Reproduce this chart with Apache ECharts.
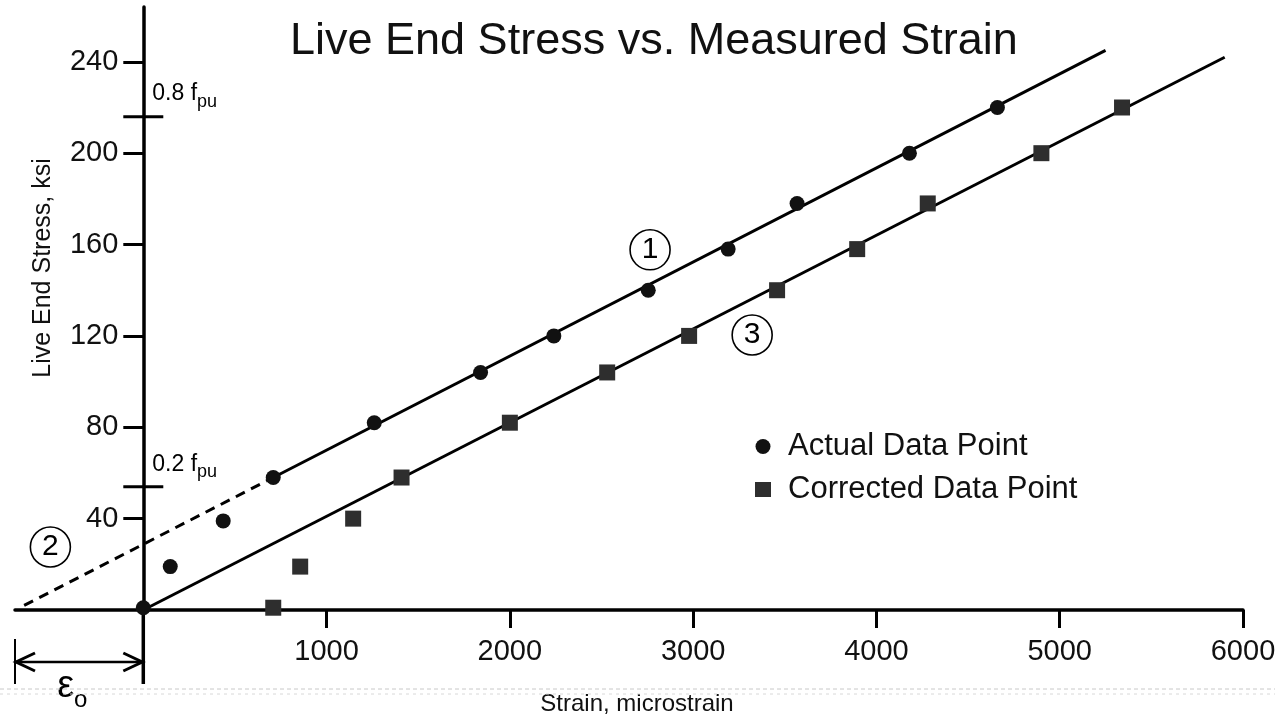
<!DOCTYPE html>
<html><head><meta charset="utf-8">
<script src="https://cdn.jsdelivr.net/npm/echarts@6/dist/echarts.min.js"></script>
<style>html,body{margin:0;padding:0;background:#fff}#c{width:1275px;height:721px}</style>
</head><body><div id="c"></div>
<script>
// ---- data ----
const xTicks = [1000, 2000, 3000, 4000, 5000, 6000];
const yTicks = [40, 80, 120, 160, 200, 240];
const actualStrain    = [0, 147, 436, 709, 1260, 1840, 2240, 2755, 3191, 3567, 4180, 4660];
const actualStress    = [1, 19, 39, 58, 82, 104, 120, 140, 158, 178, 200, 220];
const correctedStrain = [709, 856, 1145, 1409, 2000, 2531, 2978, 3458, 3895, 4280, 4900, 5340];
const correctedStress = [1, 19, 40, 58, 82, 104, 120, 140, 158, 178, 200, 220];
const dashedLine2  = [[-650, 2], [709, 58]];
const fitLine1     = [[709, 58], [5250, 245]];
const fitLine3     = [[0, 0], [5900, 242]];
const circledLabels = [[2765, 157.7, '1'], [-507, 27.6, '2'], [3322, 120.4, '3']];
const fpu = 270;
const eps0 = 700;
const xMin = -700, xMax = 6000, yMin = 0, yMax = 264;

const numFont = "'Liberation Sans',Arial,Helvetica,sans-serif";
const txtFont = "'Liberation Sans',Arial,Helvetica,sans-serif";

const chart = echarts.init(document.getElementById('c'), null, {renderer: 'canvas'});
const zip = (a, b) => a.map((v, i) => [v, b[i]]);

chart.setOption({
  animation: false,
  backgroundColor: '#fff',
  title: {
    text: 'Live End Stress vs. Measured Strain',
    left: 285, top: 14,
    textStyle: {fontFamily: txtFont, fontSize: 45, fontWeight: 'normal', color: '#111'}
  },
  legend: {
    data: ['Actual Data Point', 'Corrected Data Point'],
    orient: 'vertical', left: 750, top: 426,
    itemWidth: 16, itemHeight: 15, itemGap: 12,
    textStyle: {fontFamily: txtFont, fontSize: 31, color: '#111', padding: [0, 0, 0, 12]}
  },
  grid: {left: 15, right: 32, top: 7, bottom: 111, containLabel: false, outerBoundsMode: 'none'},
  xAxis: {
    type: 'value', min: xMin, max: xMax,
    axisLine: {onZero: true, lineStyle: {color: '#000', width: 3.5}},
    axisTick: {show: true, customValues: xTicks, length: 18, lineStyle: {color: '#000', width: 3}},
    axisLabel: {customValues: xTicks, margin: 27, formatter: v => String(v),
                fontFamily: numFont, fontSize: 29, color: '#111'},
    splitLine: {show: false}
  },
  yAxis: {
    type: 'value', min: yMin, max: yMax,
    axisLine: {show: true, onZero: true, lineStyle: {color: '#000', width: 3.5}},
    axisTick: {show: true, customValues: yTicks, length: 20, lineStyle: {color: '#000', width: 3}},
    axisLabel: {show: false},
    splitLine: {show: false}
  },
  series: [
    {name: 'dash2', type: 'line', data: dashedLine2, symbol: 'none', z: 2,
     lineStyle: {color: '#000', width: 3, type: [10, 7]}},
    {name: 'fit1', type: 'line', data: fitLine1, symbol: 'none', z: 2,
     lineStyle: {color: '#000', width: 3}},
    {name: 'fit3', type: 'line', data: fitLine3, symbol: 'none', z: 2,
     lineStyle: {color: '#000', width: 3}},
    {name: 'Actual Data Point', type: 'scatter', data: zip(actualStrain, actualStress),
     symbol: 'circle', symbolSize: 15, z: 3, itemStyle: {color: '#111', opacity: 1}},
    {name: 'Corrected Data Point', type: 'scatter', data: zip(correctedStrain, correctedStress),
     symbol: 'rect', symbolSize: 16, z: 3, itemStyle: {color: '#2e2e2e', opacity: 1}},
    {name: 'circled', type: 'scatter', data: circledLabels, symbol: 'circle', symbolSize: 40, z: 4,
     silent: true,
     itemStyle: {color: '#fff', borderColor: '#000', borderWidth: 1.6, opacity: 1},
     label: {show: true, position: 'inside', formatter: p => p.value[2],
             fontFamily: txtFont, fontSize: 30, color: '#000'}}
  ]
});

function px(x, y) { return chart.convertToPixel({gridIndex: 0}, [x, y]); }
const o = px(0, 0);
const p08 = px(0, 0.8 * fpu), p02 = px(0, 0.2 * fpu);
const eL = px(-eps0, 0);
const ay = o[1] + 52;
const blk = {stroke: '#000', lineWidth: 3};
const fpuRich = {
  a: {fontFamily: txtFont, fontSize: 23, color: '#111', lineHeight: 28, verticalAlign: 'top'},
  s: {fontFamily: txtFont, fontSize: 18, color: '#111', lineHeight: 28, verticalAlign: 'bottom'}
};
const yLabelEls = yTicks.map(v => {
  const p = px(0, v);
  return {type: 'text', x: p[0] - 25, y: p[1],
          style: {text: String(v), fontFamily: numFont, fontSize: 29, fill: '#111',
                  align: 'right', verticalAlign: 'middle'}};
});
chart.setOption({
  graphic: yLabelEls.concat([
    {type: 'line', shape: {x1: p08[0] - 20, y1: p08[1], x2: p08[0] + 20, y2: p08[1]}, style: blk},
    {type: 'line', shape: {x1: p02[0] - 20, y1: p02[1], x2: p02[0] + 20, y2: p02[1]}, style: blk},
    {type: 'text', x: p08[0] + 9, y: p08[1] - 34, style: {text: '{a|0.8 f}{s|pu}', rich: fpuRich}},
    {type: 'text', x: p02[0] + 9, y: p02[1] - 34, style: {text: '{a|0.2 f}{s|pu}', rich: fpuRich}},
    {type: 'line', shape: {x1: o[0], y1: o[1], x2: o[0], y2: ay + 22}, style: {stroke: '#000', lineWidth: 3.5}},
    {type: 'line', shape: {x1: eL[0], y1: ay - 23, x2: eL[0], y2: ay + 22}, style: {stroke: '#000', lineWidth: 2}},
    {type: 'line', shape: {x1: eL[0], y1: ay, x2: o[0], y2: ay}, style: {stroke: '#000', lineWidth: 2.5}},
    {type: 'polyline', shape: {points: [[eL[0] + 20, ay - 9], [eL[0] + 1, ay], [eL[0] + 20, ay + 9]]}, style: {stroke: '#000', lineWidth: 3, fill: null}},
    {type: 'polyline', shape: {points: [[o[0] - 20, ay - 9], [o[0] - 1, ay], [o[0] - 20, ay + 9]]}, style: {stroke: '#000', lineWidth: 3, fill: null}},
    {type: 'text', x: (eL[0] + o[0]) / 2 - 22, y: ay + 6,
     style: {text: '{e|ε}{o|o}', rich: {
       e: {fontFamily: txtFont, fontSize: 38, color: '#111', lineHeight: 44, verticalAlign: 'top'},
       o: {fontFamily: txtFont, fontSize: 24, color: '#111', lineHeight: 44, verticalAlign: 'bottom'}}}},
    {type: 'text', x: 43, y: 268, rotation: Math.PI / 2,
     style: {text: 'Live End Stress, ksi', fontFamily: txtFont, fontSize: 25, fill: '#111', align: 'center', verticalAlign: 'middle'}},
    {type: 'text', x: 637, y: 704,
     style: {text: 'Strain, microstrain', fontFamily: txtFont, fontSize: 24, fill: '#111', align: 'center', verticalAlign: 'middle'}},
    {type: 'line', shape: {x1: 0, y1: 689, x2: 1275, y2: 689}, style: {stroke: '#c8c8c8', lineWidth: 1, lineDash: [4, 3]}},
    {type: 'line', shape: {x1: 0, y1: 694, x2: 1275, y2: 694}, style: {stroke: '#d8d8d8', lineWidth: 1, lineDash: [3, 4]}}
  ])
});
</script>
</body></html>
